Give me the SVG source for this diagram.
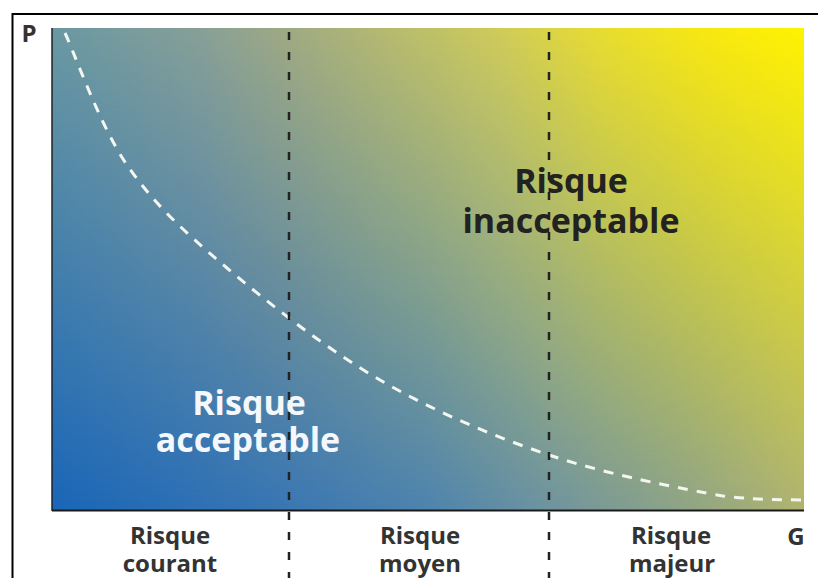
<svg xmlns="http://www.w3.org/2000/svg" width="818" height="578" viewBox="0 0 818 578">
  <defs>
    <linearGradient id="bottomRow" gradientUnits="userSpaceOnUse" x1="52" y1="0" x2="804" y2="0">
      <stop offset="0" stop-color="#1a66b8"/>
      <stop offset="0.315" stop-color="#3a77b3"/>
      <stop offset="0.5" stop-color="#4e84ae"/>
      <stop offset="0.66" stop-color="#6e94a0"/>
      <stop offset="0.86" stop-color="#92a684"/>
      <stop offset="1" stop-color="#b0b470"/>
    </linearGradient>
    <linearGradient id="topRow" gradientUnits="userSpaceOnUse" x1="52" y1="0" x2="804" y2="0">
      <stop offset="0" stop-color="#6a98a2"/>
      <stop offset="0.2" stop-color="#88a096"/>
      <stop offset="0.315" stop-color="#a0aa82"/>
      <stop offset="0.6" stop-color="#d0cc58"/>
      <stop offset="0.73" stop-color="#e8dc30"/>
      <stop offset="0.87" stop-color="#f8e810"/>
      <stop offset="1" stop-color="#fff200"/>
    </linearGradient>
    <linearGradient id="fadeV" gradientUnits="userSpaceOnUse" x1="0" y1="28" x2="0" y2="510">
      <stop offset="0" stop-color="#fff" stop-opacity="1"/>
      <stop offset="1" stop-color="#fff" stop-opacity="0"/>
    </linearGradient>
    <mask id="topMask" maskUnits="userSpaceOnUse" x="0" y="0" width="818" height="578">
      <rect x="52" y="28" width="752" height="483" fill="url(#fadeV)"/>
    </mask>
    <style>
      .lbl { font-family: "Open Sans", "Liberation Sans", sans-serif; font-weight: bold; text-anchor: middle; }
      .axis { font-size: 24px; fill: #333; }
      .big { font-size: 34px; }
      .vline { stroke: #222; stroke-width: 2.5; stroke-dasharray: 8 12; fill: none; }
    </style>
  </defs>

  <rect width="818" height="578" fill="#fff"/>

  <!-- outer frame -->
  <path d="M12.5,578 V14 H818" fill="none" stroke="#000" stroke-width="2"/>

  <!-- plot background -->
  <g id="plot">
    <rect x="52" y="28" width="752" height="483" fill="url(#bottomRow)"/>
    <rect x="52" y="28" width="752" height="483" fill="url(#topRow)" mask="url(#topMask)"/>
  </g>

  <!-- axes -->
  <g id="axes">
    <line x1="52" y1="28" x2="52" y2="511" stroke="#222" stroke-width="1.5"/>
    <line x1="52" y1="510.5" x2="804" y2="510.5" stroke="#1a1a1a" stroke-width="2"/>
    <text class="lbl" x="29" y="42" font-size="24" fill="#333">P</text>
    <text class="lbl axis" x="796" y="545">G</text>
  </g>

  <!-- zone texts -->
  <g id="acceptable">
    <text class="lbl big" x="249" y="415" fill="#f4f8fc">Risque</text>
    <text class="lbl big" x="248" y="452" fill="#f4f8fc">acceptable</text>
  </g>
  <g id="inacceptable">
    <text class="lbl big" x="571" y="193" fill="#222">Risque</text>
    <text class="lbl big" x="571" y="233" fill="#222">inacceptable</text>
  </g>

  <g id="courant">
    <text class="lbl axis" x="170" y="544">Risque</text>
    <text class="lbl axis" x="170" y="572">courant</text>
  </g>
  <g id="moyen">
    <text class="lbl axis" x="420" y="544">Risque</text>
    <text class="lbl axis" x="420" y="572">moyen</text>
  </g>
  <g id="majeur">
    <text class="lbl axis" x="671" y="544">Risque</text>
    <text class="lbl axis" x="672" y="572">majeur</text>
  </g>

  <!-- connectors: boundaries and threshold curve -->
  <g id="connectors">
    <path d="M65,33 C75.3,55 100,125.8 127,165 C154,204.2 184.8,232.2 227,268 C269.2,303.8 326.3,348.8 380,380 C433.7,411.2 491.8,435.7 549,455 C606.2,474.3 680.5,488.5 723,496 C765,501 790.5,499.3 804,500" fill="none" stroke="#f4f6f0" stroke-width="3" stroke-dasharray="10 9"/>
    <line class="vline" x1="289" y1="32" x2="289" y2="578"/>
    <line class="vline" x1="549" y1="32" x2="549" y2="578"/>
  </g>
</svg>
